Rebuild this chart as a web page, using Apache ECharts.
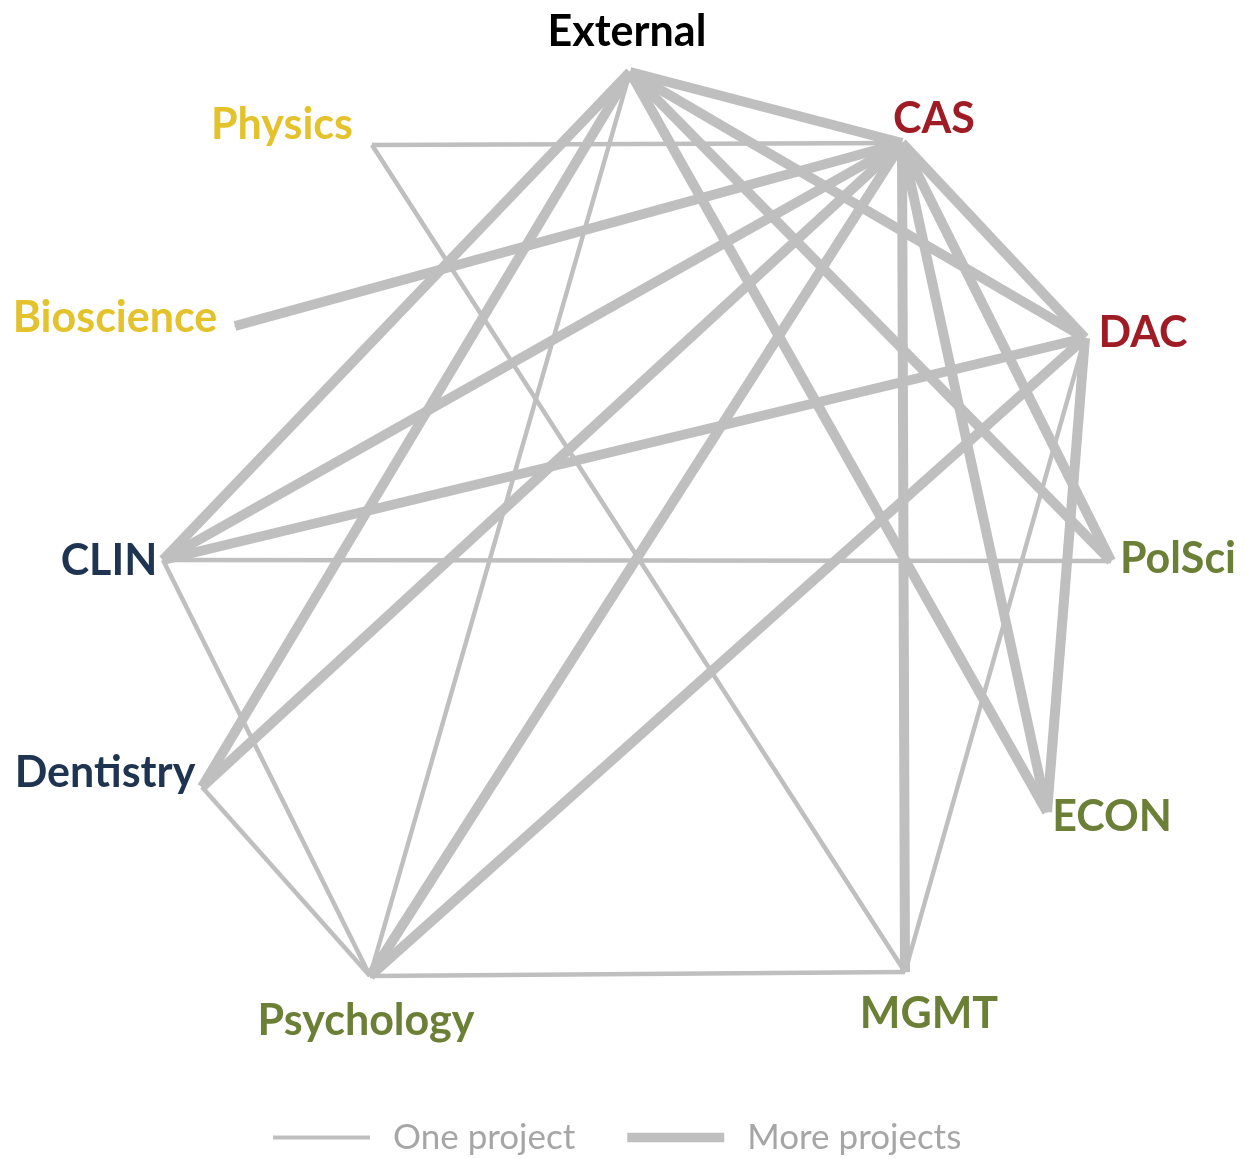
<!DOCTYPE html>
<html>
<head>
<meta charset="utf-8">
<script src="https://cdn.jsdelivr.net/npm/echarts@6/dist/echarts.min.js"></script>
<style>
html,body{margin:0;padding:0;background:#fff;}
#chart{width:1255px;height:1159px;}
</style>
</head>
<body>
<div id="chart"></div>
<script>
// ---- data ----
const nodeNames = ['External','Physics','CAS','Bioscience','DAC','CLIN','PolSci','Dentistry','ECON','Psychology','MGMT'];
const nodeX = [630, 372, 902, 235, 1085, 163, 1111, 202, 1047, 370, 905];
const nodeY = [72, 145, 143, 326, 338, 560, 561, 787, 812, 976, 972];
const nodeGroups = ['ext','yellow','red','yellow','red','navy','olive','navy','olive','olive','olive'];

const oneProjectLinks = [
  ['Physics','CAS'], ['Physics','MGMT'], ['CLIN','PolSci'], ['CLIN','Psychology'],
  ['Dentistry','Psychology'], ['External','Psychology'], ['Psychology','MGMT'], ['MGMT','DAC']
];
const moreProjectsLinks = [
  ['External','CAS'], ['External','CLIN'], ['External','Dentistry'], ['External','DAC'],
  ['External','PolSci'], ['External','ECON'], ['CAS','Bioscience'], ['CAS','CLIN'],
  ['CAS','Dentistry'], ['CAS','Psychology'], ['CAS','MGMT'], ['CAS','ECON'],
  ['CAS','PolSci'], ['CAS','DAC'], ['DAC','CLIN'], ['DAC','Psychology'], ['DAC','ECON']
];
const legendNames = ['One project','More projects'];

// ---- styles ----
const groupColors = {ext:'#000000', yellow:'#E3C22C', red:'#A01C24', navy:'#1F3450', olive:'#6C7F36'};
const labelOffsets = {
  External:[-3,-40], Physics:[-90,-20], CAS:[32,-24], Bioscience:[-120,-8], DAC:[58,-5],
  CLIN:[-54,1], PolSci:[67,-2], Dentistry:[-97,-14], ECON:[65,5], Psychology:[-4,45], MGMT:[24,42]
};
const edgeColor = '#bfbfbf';
const fontFam = 'Lato, "Open Sans", sans-serif';

function makeNodes(withLabels){
  return nodeNames.map((n,i)=>({
    name:n,
    value:[nodeX[i], nodeY[i]],
    label: withLabels ? {
      show:true, position:'inside', offset:labelOffsets[n],
      align:'center', verticalAlign:'middle',
      color:groupColors[nodeGroups[i]], fontSize:43, fontWeight:'bold', fontFamily:fontFam
    } : {show:false}
  }));
}

const chart = echarts.init(document.getElementById('chart'), null, {renderer:'canvas'});
chart.setOption({
  animation:false,
  backgroundColor:'#ffffff',
  grid:{left:0,right:0,top:0,bottom:0},
  xAxis:{type:'value', min:0, max:1255, show:false},
  yAxis:{type:'value', min:0, max:1159, inverse:true, show:false},
  legend:{
    left:268, top:1115, itemWidth:97, itemHeight:14, itemGap:52,
    textStyle:{color:'#a6a6a6', fontSize:35, fontFamily:fontFam, padding:[0,0,0,18]},
    data:[
      {name:legendNames[0], icon:'path://M0,0H100V4H0Z', itemStyle:{color:edgeColor, opacity:1}},
      {name:legendNames[1], icon:'path://M0,0H100V10H0Z', itemStyle:{color:edgeColor, opacity:1}}
    ],
    selectedMode:false
  },
  series:[
    {
      type:'graph', name:legendNames[0], coordinateSystem:'cartesian2d', layout:'none',
      symbol:'circle', symbolSize:1, itemStyle:{color:edgeColor},
      data:makeNodes(false),
      links:oneProjectLinks.map(l=>({source:l[0], target:l[1]})),
      lineStyle:{color:edgeColor, width:4.5, opacity:1, curveness:0},
      emphasis:{disabled:true}, silent:true, z:2
    },
    {
      type:'graph', name:legendNames[1], coordinateSystem:'cartesian2d', layout:'none',
      symbol:'circle', symbolSize:1, itemStyle:{color:edgeColor},
      data:makeNodes(true),
      links:moreProjectsLinks.map(l=>({source:l[0], target:l[1]})),
      lineStyle:{color:edgeColor, width:10, opacity:1, curveness:0},
      emphasis:{disabled:true}, silent:true, z:3
    }
  ]
});
</script>
</body>
</html>
